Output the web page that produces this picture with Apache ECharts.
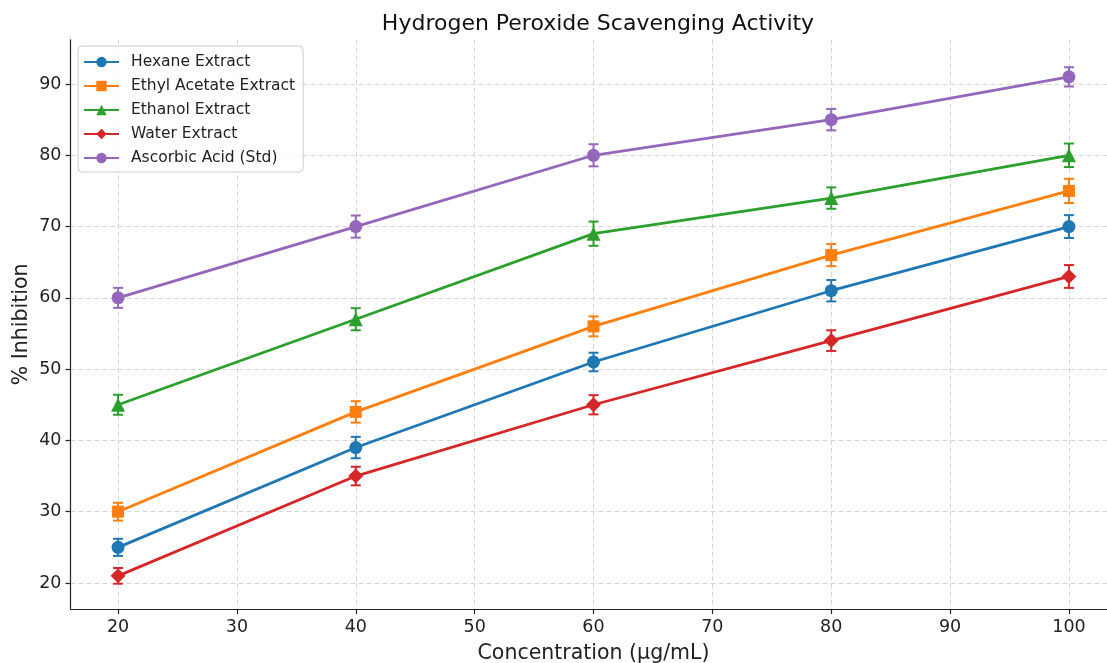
<!DOCTYPE html>
<html>
<head>
<meta charset="utf-8">
<script src="https://cdn.jsdelivr.net/npm/echarts@6/dist/echarts.min.js"></script>
<style>
  html, body { margin: 0; padding: 0; background: #fff; }
  #chart { width: 1107px; height: 663px; }
</style>
</head>
<body>
<div id="chart"></div>
<script>
// concentrations (µg/mL)
const concentrations = [20, 40, 60, 80, 100];
const xTicks = [20, 30, 40, 50, 60, 70, 80, 90, 100];
const yTicks = [20, 30, 40, 50, 60, 70, 80, 90];

// % inhibition per extract
const hexane = [25, 39, 51, 61, 70];
const ethylAcetate = [30, 44, 56, 66, 75];
const ethanol = [45, 57, 69, 74, 80];
const water = [21, 35, 45, 54, 63];
const ascorbic = [60, 70, 80, 85, 91];

// error bars (+/-)
const hexaneErr = [1.2, 1.5, 1.3, 1.5, 1.6];
const ethylAcetateErr = [1.25, 1.5, 1.4, 1.55, 1.7];
const ethanolErr = [1.4, 1.55, 1.7, 1.5, 1.65];
const waterErr = [1.1, 1.3, 1.35, 1.45, 1.6];
const ascorbicErr = [1.4, 1.55, 1.55, 1.5, 1.35];

const FONT = "DejaVu Sans";

const groups = [
  { name: "Hexane Extract", values: hexane, err: hexaneErr, color: "#1f77b4", symbol: "circle", size: 13 },
  { name: "Ethyl Acetate Extract", values: ethylAcetate, err: ethylAcetateErr, color: "#ff7f0e", symbol: "rect", size: 12 },
  { name: "Ethanol Extract", values: ethanol, err: ethanolErr, color: "#2ca02c", symbol: "triangle", size: 14 },
  { name: "Water Extract", values: water, err: waterErr, color: "#d62728", symbol: "diamond", size: 15 },
  { name: "Ascorbic Acid (Std)", values: ascorbic, err: ascorbicErr, color: "#9467bd", symbol: "circle", size: 13 },
];

// draws one vertical error bar with caps
const errorBarItem = (color) => (params, api) => {
  const x = api.value(0);
  const lo = api.coord([x, api.value(1)]);
  const hi = api.coord([x, api.value(2)]);
  const cap = 5;
  const style = { stroke: color, lineWidth: 2 };
  return {
    type: "group",
    children: [
      { type: "line", shape: { x1: lo[0], y1: lo[1], x2: hi[0], y2: hi[1] }, style: style },
      { type: "line", shape: { x1: lo[0] - cap, y1: lo[1], x2: lo[0] + cap, y2: lo[1] }, style: style },
      { type: "line", shape: { x1: hi[0] - cap, y1: hi[1], x2: hi[0] + cap, y2: hi[1] }, style: style },
    ],
  };
};

const series = [];
groups.forEach((g) => {
  series.push({
    name: g.name,
    type: "line",
    data: concentrations.map((c, i) => [c, g.values[i]]),
    symbol: g.symbol,
    symbolSize: g.size,
    showSymbol: true,
    lineStyle: { color: g.color, width: 2.8 },
    itemStyle: { color: g.color },
    z: 3,
    animation: false,
  });
});
groups.forEach((g) => {
  series.push({
    type: "custom",
    renderItem: errorBarItem(g.color),
    data: concentrations.map((c, i) => [c, g.values[i] - g.err[i], g.values[i] + g.err[i]]),
    encode: { x: 0, y: [1, 2] },
    z: 2,
    silent: true,
    animation: false,
  });
});

const axisCommon = {
  axisLine: { show: true, lineStyle: { color: "#222", width: 1.2 } },
  axisTick: { show: true, length: 5, lineStyle: { color: "#222", width: 1.2 } },
  axisLabel: { color: "#222", fontFamily: FONT, fontSize: 17.5 },
  splitLine: { show: true, lineStyle: { color: "#d6d6d6", type: [5, 3], width: 1 } },
  nameLocation: "middle",
  nameMoveOverlap: false,
  nameTextStyle: { color: "#222", fontFamily: FONT, fontSize: 20.5 },
};

const option = {
  backgroundColor: "#fff",
  animation: false,
  title: {
    text: "Hydrogen Peroxide Scavenging Activity",
    left: 593,
    textAlign: "center",
    top: 8,
    textStyle: { fontFamily: FONT, fontSize: 22, fontWeight: "normal", color: "#111" },
  },
  legend: {
    data: groups.map((g) => g.name),
    orient: "vertical",
    left: 78,
    top: 46,
    itemWidth: 35,
    itemHeight: 13,
    itemGap: 8,
    padding: [8, 8, 6, 5],
    backgroundColor: "rgba(255,255,255,0.85)",
    borderColor: "#cccccc",
    borderWidth: 1,
    borderRadius: 4,
    textStyle: { fontFamily: FONT, fontSize: 15.5, color: "#222", padding: [0, 0, 0, 7] },
  },
  grid: { left: 70.5, right: -9.5, top: 39.8, bottom: 54, outerBoundsMode: "none", containLabel: false },
  xAxis: Object.assign({}, axisCommon, {
    type: "value",
    min: 16,
    max: 104,
    name: "Concentration (\u03bcg/mL)",
    nameGap: 34,
    axisTick: Object.assign({}, axisCommon.axisTick, { customValues: xTicks }),
    axisLabel: Object.assign({}, axisCommon.axisLabel, { customValues: xTicks, margin: 9 }),
  }),
  yAxis: Object.assign({}, axisCommon, {
    type: "value",
    min: 16.35,
    max: 96.2,
    name: "% Inhibition",
    nameGap: 38,
    axisTick: Object.assign({}, axisCommon.axisTick, { customValues: yTicks }),
    axisLabel: Object.assign({}, axisCommon.axisLabel, { customValues: yTicks, margin: 9 }),
  }),
  series: series,
};

const chart = echarts.init(document.getElementById("chart"), null, { renderer: "canvas" });
chart.setOption(option);
</script>
</body>
</html>
